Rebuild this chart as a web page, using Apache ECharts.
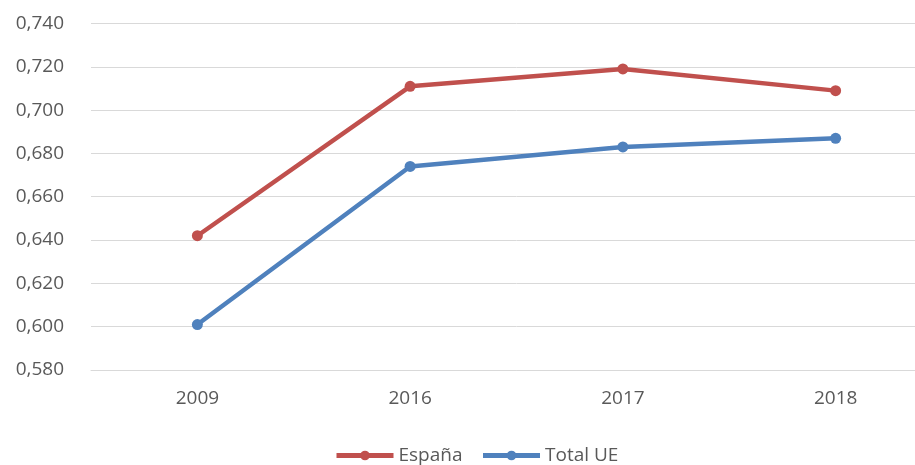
<!DOCTYPE html>
<html>
<head>
<meta charset="utf-8">
<script src="https://cdn.jsdelivr.net/npm/echarts@6/dist/echarts.min.js"></script>
<style>
  html, body { margin: 0; padding: 0; background: #fff; overflow: hidden; }
  /* plot runs past the right edge in the original, so the canvas is wider than the window */
  #chart { width: 942px; height: 465px; }
</style>
</head>
<body>
<div id="chart"></div>
<script>
// 数据
var years = ['2009', '2016', '2017', '2018'];
var espana = [0.642, 0.711, 0.719, 0.709];
var totalUE = [0.601, 0.674, 0.683, 0.687];

var chart = echarts.init(document.getElementById('chart'));

function serie(name, data, color) {
  return {
    name: name,
    type: 'line',
    data: data,
    symbol: 'circle',
    symbolSize: 11,
    lineStyle: { width: 4.5, color: color },
    itemStyle: { color: color },
    emphasis: { disabled: true }
  };
}

var option = {
  animation: false,
  textStyle: { fontFamily: 'Open Sans' },
  grid: { left: 91, right: 0, top: 23.5, bottom: 95 },
  legend: {
    top: 441,
    left: 329,
    itemWidth: 57,
    itemHeight: 12,
    itemGap: 18,
    lineStyle: { width: 5 },
    textStyle: { color: '#595959', fontSize: 19, fontFamily: 'Open Sans' },
    data: ['España', 'Total UE']
  },
  xAxis: {
    type: 'category',
    data: years,
    boundaryGap: true,
    axisLine: { lineStyle: { color: '#d9d9d9' } },
    axisTick: { show: false },
    axisLabel: { color: '#595959', fontSize: 19, margin: 19 }
  },
  yAxis: {
    type: 'value',
    min: 0.58,
    max: 0.74,
    interval: 0.02,
    axisLine: { show: false },
    axisTick: { show: false },
    splitLine: { lineStyle: { color: '#d9d9d9' } },
    axisLabel: {
      color: '#595959',
      fontSize: 19,
      margin: 27,
      formatter: function (v) { return v.toFixed(3).replace('.', ','); }
    }
  },
  series: [
    serie('España', espana, '#c0504d'),
    serie('Total UE', totalUE, '#4f81bd')
  ]
};

chart.setOption(option);
</script>
</body>
</html>
